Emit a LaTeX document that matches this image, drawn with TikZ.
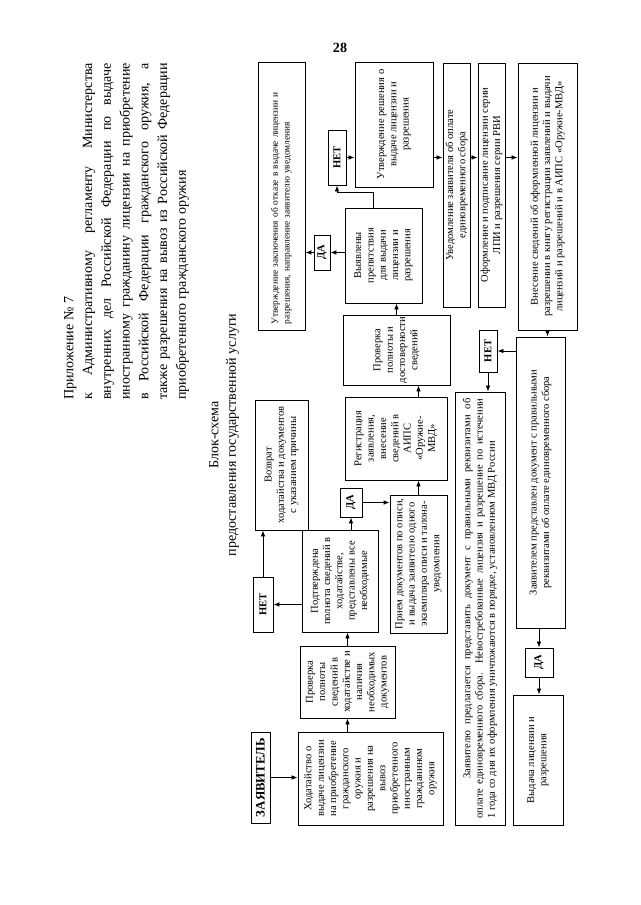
\documentclass[tikz,border=0pt]{standalone}
\usepackage{fontspec}
\setmainfont{Liberation Serif}
\usetikzlibrary{positioning,arrows.meta,calc}

\begin{document}
\begin{tikzpicture}[x=0.3mm, y=0.3mm,
  every node/.style={font=\fontsize{9}{10.5}\selectfont},
  box/.style={draw, line width=0.8pt, align=center, inner sep=1pt},
  ans/.style={draw, line width=0.8pt, inner sep=1pt, font=\bfseries\fontsize{9}{10.5}\selectfont},
  hdr/.style={align=left, inner sep=0pt, font=\fontsize{12}{16}\selectfont},
  arr/.style={line width=0.7pt, -{Latex[length=1.8mm,width=1.4mm]}}]
\useasboundingbox (0,0) rectangle (640,905);
\node (pnum) at (340,857) {\fontsize{12}{14}\selectfont\textbf{28}};
\begin{scope}[rotate=90, transform shape]
% header and title
\node[hdr, anchor=north west] (hdr) at (505,-64) {Приложение № 7\\
  \makebox[101mm][s]{к Административному регламенту Министерства}\\
  \makebox[101mm][s]{внутренних дел Российской Федерации по выдаче}\\
  \makebox[101mm][s]{иностранному гражданину лицензии на приобретение}\\
  \makebox[101mm][s]{в Российской Федерации гражданского оружия, а}\\
  \makebox[101mm][s]{также разрешения на вывоз из Российской Федерации}\\
  приобретенного гражданского оружия};
\node[align=center, font=\fontsize{12}{15}\selectfont] (ttl) at (470,-224) {Блок-схема\\предоставления государственной услуги};

% boxes
\node[box, font=\bfseries\fontsize{11}{13}\selectfont, minimum width=27.3mm, minimum height=5.7mm] (zayav) at (127.5,-260.5) {ЗАЯВИТЕЛЬ};
\node[box, minimum width=27.9mm, minimum height=43.5mm] (hodat) at (126.5,-370.5) {Ходатайство о\\выдаче лицензии\\на приобретение\\гражданского\\оружия и\\разрешения на\\вывоз\\приобретенного\\иностранным\\гражданином\\оружия};
\node[box, minimum width=21.6mm, minimum height=28.5mm] (prov1) at (223,-347.5) {Проверка\\полноты\\сведений в\\ходатайстве и\\наличия\\необходимых\\документов};
\node[box, minimum width=30.6mm, minimum height=22.8mm] (podtv) at (324,-340) {Подтверждена\\полнота сведений в\\ходатайстве,\\представлены все\\необходимые};
\node[ans, minimum width=16.5mm, minimum height=6mm] (net1) at (300.5,-263) {НЕТ};
\node[box, minimum width=39mm, minimum height=15.9mm] (vozvr) at (440,-281.5) {Возврат\\ходатайства и документов\\с указанием причины};
\node[ans, minimum width=8.7mm, minimum height=6.6mm] (da1) at (402.5,-351) {ДА};
\node[box, minimum width=41.4mm, minimum height=17.1mm] (priem) at (341,-418.5) {Прием документов по описи,\\и выдача заявителю одного\\экземпляра описи и талона-\\уведомления};
\node[box, minimum width=24.9mm, minimum height=30.6mm] (regist) at (466.5,-396) {Регистрация\\заявления,\\внесение\\сведений в\\АИПС\\«Оружие-\\МВД»};
\node[box, minimum width=21mm, minimum height=32.1mm] (provd) at (555,-396.5) {Проверка\\полноты и\\достоверности\\сведений};
\node[box, minimum width=28.5mm, minimum height=23.1mm] (vyyav) at (649.5,-383.5) {Выявлены\\препятствия\\для выдачи\\лицензии и\\разрешения};
\node[ans, minimum width=10.5mm, minimum height=4.8mm] (da2) at (652.5,-322) {ДА};
\node[ans, minimum width=16.5mm, minimum height=5.4mm] (net2) at (747.5,-337) {НЕТ};
\node[box, align=left, text width=77mm, minimum width=80.4mm, minimum height=14.1mm, font=\fontsize{8}{10}\selectfont] (utvz) at (709,-281.5) {Утверждение заключения об отказе в выдаче лицензии и\\разрешения, направление заявителю уведомления};
\node[box, minimum width=37.5mm, minimum height=23.4mm] (utvr) at (780.5,-394) {Утверждение решения о\\выдаче лицензии и\\разрешения};
\node[box, minimum width=73.2mm, minimum height=8.1mm] (uved) at (720,-456.5) {Уведомление заявителя об оплате\\единовременного сбора};
\node[box, minimum width=73.2mm, minimum height=8.1mm] (oform) at (720,-491.5) {Оформление и подписание лицензии серии\\ЛПИ и разрешения серии РВИ};
\node[box, minimum width=80.1mm, minimum height=17.7mm] (vnes) at (708.5,-547.5) {Внесение сведений об оформленной лицензии и\\разрешении в книгу регистрации заявлений и выдачи\\лицензий и разрешений и в АИПС «Оружие-МВД»};
\node[box, minimum width=87.3mm, minimum height=14.7mm] (zpred) at (422.5,-540.5) {Заявителем представлен документ с правильными\\реквизитами об оплате единовременного сбора};
\node[ans, minimum width=12.6mm, minimum height=5.4mm] (net3) at (554,-488) {НЕТ};
\node[box, minimum width=129.9mm, minimum height=15mm] (predl) at (296.5,-480) {\makebox[126mm][s]{\hspace*{12mm}Заявителю предлагается представить документ с правильными реквизитами об}\\
  \makebox[126mm][s]{оплате единовременного сбора. Невостребованные лицензия и разрешение по истечении}\\
  \makebox[126mm][l]{1 года со дня их оформления уничтожаются в порядке, установленном МВД России}};
\node[ans, minimum width=8.7mm, minimum height=8.4mm] (da3) at (242.5,-539) {ДА};
\node[box, minimum width=39mm, minimum height=15mm] (vydacha) at (145,-538) {Выдача лицензии и\\разрешения};

% connectors
\draw[arr] (zayav.south) -- (zayav.south |- hodat.north);
\draw[arr] (hodat.east |- prov1) -- (prov1.west);
\draw[arr] (prov1.east) -- (prov1.east -| podtv.west);
\draw[arr] (podtv.north -| net1) -- (net1.south);
\draw[arr] (net1.east) -- (net1.east -| vozvr.west);
\draw[arr] (podtv.east |- da1) -- (da1.west);
\draw[arr] (da1.south) -- (da1.south |- priem.north);
\draw[arr] (priem.east) -- (priem.east -| regist.west);
\draw[arr] (regist.east |- priem.east) -- (provd.west |- priem.east);
\draw[arr] (provd.east) -- (provd.east -| vyyav.west);
\draw[arr] (vyyav.north -| da2) -- (da2.south);
\draw[arr] (da2.north) -- (da2.north |- utvz.south);
\draw[arr] ($(vyyav.east)+(0,10)$) -- ++(15,0) |- (net2.west);
\draw[arr] (net2.south) -- (net2.south |- utvr.north);
\draw[arr] (utvr.south -| net2) -- (uved.north -| net2);
\draw[arr] (uved.south -| net2) -- (oform.north -| net2);
\draw[arr] (oform.south -| net2) -- (vnes.north -| net2);
\draw[arr] (vnes.west) -- (vnes.west -| zpred.east);
\draw[arr] (zpred.north -| net3) -- (net3.south);
\draw[arr] (net3.west) -- (net3.west -| predl.east);
\draw[arr] (zpred.west |- da3) -- (da3.east);
\draw[arr] (da3.west) -- (da3.west -| vydacha.east);
\end{scope}
\end{tikzpicture}
\end{document}
